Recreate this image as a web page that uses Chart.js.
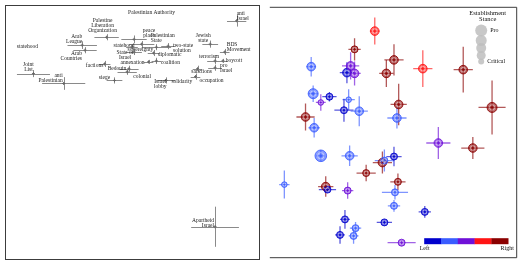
<!DOCTYPE html>
<html><head><meta charset="utf-8">
<script src="https://cdn.jsdelivr.net/npm/chart.js@4"></script>
<style>
html,body{margin:0;padding:0;background:#fff;}
#wrap{position:relative;width:523px;height:264px;overflow:hidden;background:#fff;}
canvas{position:absolute;top:0;}
#cl{left:0;} #cr{left:263px;}
</style></head><body>
<div id="wrap"><canvas id="cl" width="264" height="264"></canvas><canvas id="cr" width="260" height="264"></canvas></div>
<script>
// ---------- Left panel: terms ----------
const leftTerms = ['Palestinian Authority','statehood','anti\nIsrael','Palestine\nLiberation\nOrganization','Arab\nLeague','Arab\nCountries','statehood','peace\nplace','Palestinian\nState','sovereignty','two-state\nsolution','State of\nIsrael','diplomatic','annexation','coalition','factions','Bedouin','siege','colonial','Israel\nlobby','solidarity','Jewish\nstate','BDS\nMovement','terrorism','boycott','pro\nIsrael','sanctions','occupation','Joint\nList','anti\nPalestinian','Apartheid\nIsrael'];
const leftX = [57.7,8.8,91.2,40.0,30.4,31.5,50.0,50.8,53.8,59.6,64.2,50.8,58.5,56.5,59.6,39.2,48.8,43.1,48.1,63.5,69.6,80.8,86.5,82.7,85.8,82.7,75.8,75.0,11.2,23.1,82.7];
const leftY = [96.9,83.8,93.8,87.3,84.2,82.2,83.4,86.5,84.6,83.4,83.8,81.5,81.1,77.6,78.0,76.8,74.9,70.3,73.7,70.3,69.9,84.6,81.5,78.0,78.0,75.3,74.9,71.8,73.0,69.1,12.7];
const leftXErr = [0,0,3.8,4.8,5.8,4.6,2.3,5.0,5.0,5.8,2.7,3.1,2.3,1.9,1.9,2.3,3.8,3.1,3.8,3.5,0,3.1,1.9,3.1,1.9,2.7,1.9,1.9,6.5,8.5,9.4];
const leftYErr = [0,0,2.3,1.2,1.5,1.2,0.8,1.5,1.2,1.2,1.2,1.2,1.2,0.8,1.2,1.2,1.2,1.2,1.2,1.2,0,1.4,1.2,1.2,0.8,1.2,1.2,1.2,1.4,2.5,7.9];
// label placement (pixel nudges from the point, alignment) – layout only
const labelNudge = [[0,0,'center'],[0,0,'center'],[0,-5,'left'],[-4,-11.5,'center'],[0,-6,'right'],[-3,5.5,'right'],[-8,-2,'center'],[15,-6.5,'center'],[9,-6,'left'],[-16,2.5,'center'],[5,1.5,'left'],[-9,3.5,'center'],[16,2,'center'],[-16,1,'center'],[14,2,'center'],[-10,2,'center'],[-12,0,'center'],[-10,-3,'center'],[15,5,'center'],[-6,3.5,'center'],[0,0,'center'],[-7,-6.5,'center'],[2,-4.5,'left'],[-6,-4,'center'],[11,0,'center'],[5,0.5,'left'],[4,3,'center'],[16,4,'center'],[-5,-7,'center'],[-1,-5.5,'right'],[-1,-4,'right']];

// ---------- Right panel: sources ----------
const srcX = [42.6,34.4,50.4,47.3,16.8,31.3,32.8,34.4,17.6,20.7,24.2,32.0,30.1,36.3,14.5,18.0,51.6,68.4,82.4,62.1,78.5,52.3,90.2,5.9,20.7,32.4,39.1,22.7,23.4,31.6,45.7,46.5,50.4,50.8,52.0,50.4,30.5,34.8,28.5,34.0,46.5,62.9,53.5];
const srcY = [90.3,83.0,78.8,73.4,76.1,73.7,76.4,73.4,65.3,61.8,64.1,62.9,58.7,58.3,56.0,51.7,55.6,45.6,43.6,75.3,74.9,61.0,59.8,29.0,40.5,40.5,33.6,28.2,27.0,26.6,37.8,38.6,40.2,25.9,30.1,20.5,15.1,11.6,8.9,8.5,13.9,18.1,5.8];
const srcXErr = [2.0,2.5,3.9,2.9,2.0,2.9,3.5,2.5,2.0,2.0,2.9,2.5,3.9,3.5,3.7,2.3,3.9,4.9,4.7,3.9,3.9,3.3,5.5,2.1,1.8,3.3,3.9,3.1,3.5,2.3,3.9,3.9,3.1,5.3,3.1,2.5,2.0,2.3,2.0,2.0,3.1,2.5,5.7];
const srcYErr = [5.4,4.4,6.2,5.4,3.9,4.2,5.4,4.8,3.3,3.3,1.9,4.2,4.6,6.0,5.4,3.9,4.2,6.4,4.4,7.3,9.1,8.3,10.8,5.6,2.3,4.1,3.3,4.1,1.2,3.3,4.4,4.4,3.9,2.9,3.3,2.3,3.7,2.5,3.5,3.1,1.2,2.3,1.0];
const srcLean = [3,4,4,4,1,0,2,2,1,2,0,1,0,1,4,1,1,2,4,3,4,4,4,1,1,1,4,4,0,2,4,1,0,1,4,1,0,1,0,1,0,0,2];
const srcStance = [3,2,3,3,3,3,3,3,4,1,2,1,2,3,3,3,3,3,3,3,3,3,4,1,5,3,2,3,2,2,3,2,2,2,2,2,2,2,2,2,2,2,2];
const leanLabels = ['Left','Right'];
const stanceTitle = ['Establishment','Stance'];
const stanceLabels = ['Pro','Critical'];

// ---------- styles ----------
const leanColors = [[0,0,205],[58,92,255],[111,16,216],[255,20,20],[139,0,0]];
const stanceRadius = [0,2.8,3.5,4.3,5.0,5.8];
const FRAME = '#3c3c3c';
const SERIF = '"Liberation Serif", "DejaVu Serif", serif';
const rgba = (c,a)=>`rgba(${c[0]},${c[1]},${c[2]},${a})`;

const common = {
  responsive:false, animation:false, events:[],
  plugins:{legend:{display:false}, tooltip:{enabled:false}},
  scales:{x:{type:'linear',min:0,max:100,display:false}, y:{type:'linear',min:0,max:100,display:false}}
};

// ---------- left chart ----------
const leftPlugin = {
  id:'leftTerms',
  beforeDatasetsDraw(chart){
    const {ctx, scales:{x:xs, y:ys}} = chart;
    ctx.save();
    ctx.strokeStyle = '#8a8a8a'; ctx.lineWidth = 1;
    for (let i=0;i<leftX.length;i++){
      const px = xs.getPixelForValue(leftX[i]), py = ys.getPixelForValue(leftY[i]);
      if (leftXErr[i]>0){
        ctx.beginPath();
        ctx.moveTo(xs.getPixelForValue(leftX[i]-leftXErr[i]), Math.round(py)+0.5);
        ctx.lineTo(xs.getPixelForValue(leftX[i]+leftXErr[i]), Math.round(py)+0.5);
        ctx.stroke();
      }
      if (leftYErr[i]>0){
        ctx.beginPath();
        ctx.moveTo(Math.round(px)+0.5, ys.getPixelForValue(leftY[i]-leftYErr[i]));
        ctx.lineTo(Math.round(px)+0.5, ys.getPixelForValue(leftY[i]+leftYErr[i]));
        ctx.stroke();
      }
    }
    ctx.restore();
  },
  afterDatasetsDraw(chart){
    const {ctx, chartArea:a, scales:{x:xs, y:ys}} = chart;
    ctx.save();
    ctx.fillStyle = '#1a1a1a';
    ctx.font = '5.5px ' + SERIF;
    ctx.textBaseline = 'middle';
    const lh = 5;
    for (let i=0;i<leftTerms.length;i++){
      const px = xs.getPixelForValue(leftX[i]), py = ys.getPixelForValue(leftY[i]);
      const [dx,dy,al] = labelNudge[i];
      const lines = leftTerms[i].split('\n');
      const y0 = py + dy - (lines.length-1)*lh/2;
      ctx.textAlign = al;
      lines.forEach((l,k)=>ctx.fillText(l, px+dx, y0+k*lh));
    }
    ctx.strokeStyle = FRAME; ctx.lineWidth = 1;
    ctx.strokeRect(a.left+0.5, a.top+0.5, a.right-a.left, a.bottom-a.top);
    ctx.restore();
  }
};

new Chart(document.getElementById('cl'), {
  type:'scatter',
  data:{datasets:[{
    data: leftX.map((x,i)=>({x, y:leftY[i]})),
    pointStyle:'cross',
    pointRadius: c => leftXErr[c.dataIndex]>0 ? 1.5 : 0,
    borderColor:'#666', borderWidth:1
  }]},
  options: Object.assign({}, common, {layout:{padding:{left:3, top:2, right:1, bottom:3}}}),
  plugins:[leftPlugin]
});

// ---------- right chart ----------
const rightPlugin = {
  id:'rightSources',
  beforeDatasetsDraw(chart){
    const {ctx, scales:{x:xs, y:ys}} = chart;
    ctx.save();
    ctx.lineWidth = 1.3;
    for (let i=0;i<srcX.length;i++){
      const c = leanColors[srcLean[i]];
      ctx.strokeStyle = rgba(c,0.65);
      const px = xs.getPixelForValue(srcX[i]), py = ys.getPixelForValue(srcY[i]);
      ctx.beginPath();
      ctx.moveTo(xs.getPixelForValue(srcX[i]-srcXErr[i]), py);
      ctx.lineTo(xs.getPixelForValue(srcX[i]+srcXErr[i]), py);
      ctx.moveTo(px, ys.getPixelForValue(srcY[i]-srcYErr[i]));
      ctx.lineTo(px, ys.getPixelForValue(srcY[i]+srcYErr[i]));
      ctx.stroke();
    }
    ctx.restore();
  },
  afterDatasetsDraw(chart){
    const {ctx, chartArea:a, scales:{x:xs, y:ys}} = chart;
    ctx.save();
    // inner highlight rings
    for (let i=0;i<srcX.length;i++){
      const c = leanColors[srcLean[i]];
      const r = stanceRadius[srcStance[i]];
      const px = xs.getPixelForValue(srcX[i]), py = ys.getPixelForValue(srcY[i]);
      ctx.strokeStyle = 'rgba(255,255,255,0.55)'; ctx.lineWidth = 0.8;
      ctx.beginPath(); ctx.arc(px,py,r*0.55,0,Math.PI*2); ctx.stroke();
      ctx.fillStyle = rgba(c,0.8);
      ctx.beginPath(); ctx.arc(px,py,Math.max(0.8,r*0.22),0,Math.PI*2); ctx.fill();
    }
    // stance legend
    const lx = a.right - 35;
    ctx.fillStyle = '#111';
    ctx.font = '6.5px ' + SERIF;
    ctx.textAlign = 'center'; ctx.textBaseline = 'middle';
    ctx.fillText(stanceTitle[0], lx+6.5, a.top+6);
    ctx.fillText(stanceTitle[1], lx+6.5, a.top+12.5);
    const legR = [6,5.5,5,4.5,3];
    const legY = [23.7,33.7,41.3,48.7,54.7];
    ctx.fillStyle = 'rgba(190,190,190,0.85)';
    for (let k=0;k<legR.length;k++){
      ctx.beginPath(); ctx.arc(lx, a.top+legY[k], legR[k], 0, Math.PI*2); ctx.fill();
    }
    ctx.fillStyle = '#111';
    ctx.font = '6px ' + SERIF;
    ctx.textAlign = 'left';
    ctx.fillText(stanceLabels[0], lx+9, a.top+24);
    ctx.fillText(stanceLabels[1], lx+6, a.top+55);
    // lean colour bar
    const bw = 84, bx = a.right - 92, by = a.bottom - 19, bh = 6;
    leanColors.forEach((c,k)=>{
      ctx.fillStyle = rgba(c,1);
      ctx.fillRect(bx + k*bw/leanColors.length, by, bw/leanColors.length+0.3, bh);
    });
    ctx.fillStyle = '#111';
    ctx.font = '6px ' + SERIF;
    ctx.textAlign = 'center';
    ctx.fillText(leanLabels[0], bx+0.5, a.bottom-9);
    ctx.fillText(leanLabels[1], bx+bw-1, a.bottom-9);
    // frame
    ctx.strokeStyle = FRAME; ctx.lineWidth = 1;
    ctx.beginPath();
    ctx.moveTo(a.left, a.top+0.5); ctx.lineTo(a.right+0.5, a.top+0.5);
    ctx.lineTo(a.right+0.5, a.bottom+0.5); ctx.lineTo(a.left, a.bottom+0.5);
    ctx.stroke();
    ctx.restore();
  }
};

new Chart(document.getElementById('cr'), {
  type:'scatter',
  data:{datasets:[{
    data: srcX.map((x,i)=>({x, y:srcY[i]})),
    pointStyle:'circle',
    pointRadius: c => stanceRadius[srcStance[c.dataIndex]],
    backgroundColor: c => rgba(leanColors[srcLean[c.dataIndex]],0.6),
    borderColor: c => rgba(leanColors[srcLean[c.dataIndex]],0.85),
    borderWidth: 1
  }]},
  options: Object.assign({}, common, {layout:{padding:{left:0, top:2, right:4, bottom:3}}}),
  plugins:[rightPlugin]
});
</script>
</body></html>
